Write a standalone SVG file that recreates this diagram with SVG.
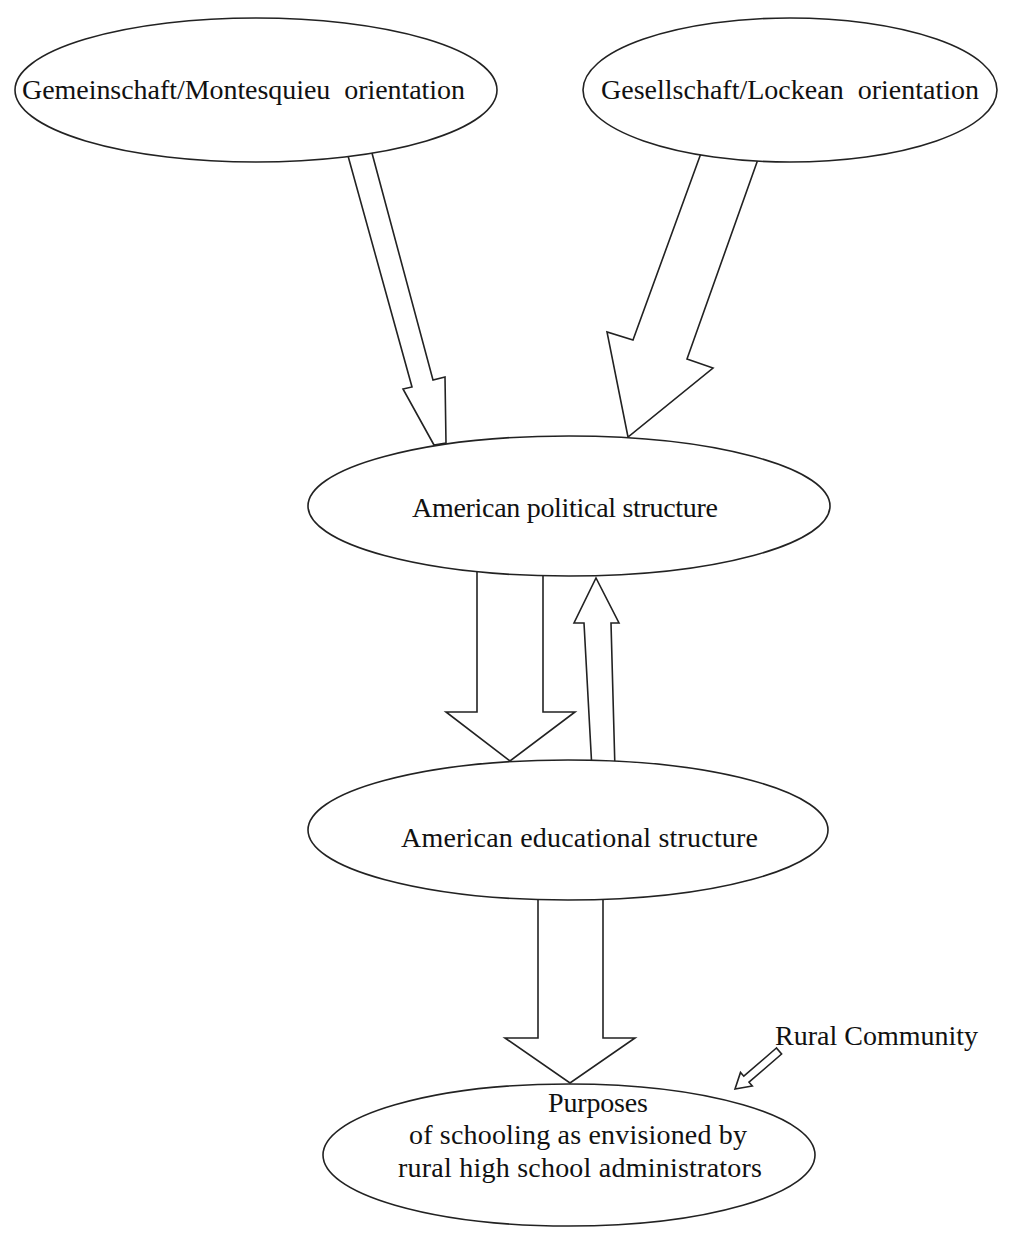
<svg xmlns="http://www.w3.org/2000/svg" width="1013" height="1237" viewBox="0 0 1013 1237">
<style>
.node ellipse{fill:#fff;stroke:#222;stroke-width:1.6}
.arr polygon{fill:#fff;stroke:#222;stroke-width:1.6;stroke-linejoin:miter}
text{font-family:"Liberation Serif","Times New Roman",serif;font-size:28px;fill:#111}
</style>
<rect width="1013" height="1237" fill="#fff"/>
<g id="connectors" class="arr">
<polygon points="345,145 412,387 403,389 434,445 446,443 445,377 433,380 369,142"/>
<polygon points="704,145 633,340 607,332 628,437 713,368 687,359 762,148"/>
<polygon points="477,565 477,712 446,712 510,761 575,712 543,712 543,565"/>
<polygon points="592,770 584,623 574,623 596,578 619,623 611,623 615,770"/>
<polygon points="538,892 538,1038 505,1038 570,1083 635,1038 603,1038 603,892"/>
<polygon points="776.4,1048 743.8,1076.2 740.5,1072.4 735,1089 752.3,1086 749,1082.2 781.6,1054"/>
</g>
<g id="n1" class="node"><ellipse cx="256" cy="90" rx="241" ry="72"/><text x="22" y="99" textLength="443" lengthAdjust="spacing" xml:space="preserve">Gemeinschaft/Montesquieu  orientation</text></g>
<g id="n2" class="node"><ellipse cx="790" cy="90" rx="207" ry="72"/><text x="601" y="99" textLength="378" lengthAdjust="spacing" xml:space="preserve">Gesellschaft/Lockean  orientation</text></g>
<g id="n3" class="node"><ellipse cx="569" cy="506" rx="261" ry="70"/><text x="412" y="517" textLength="306" lengthAdjust="spacing">American political structure</text></g>
<g id="n4" class="node"><ellipse cx="568" cy="830" rx="260" ry="70"/><text x="401" y="847" textLength="357" lengthAdjust="spacing">American educational structure</text></g>
<g id="n5" class="node"><ellipse cx="569" cy="1155" rx="246" ry="71"/>
<text x="548" y="1112" textLength="100" lengthAdjust="spacing">Purposes</text>
<text x="409" y="1144" textLength="338" lengthAdjust="spacing">of schooling as envisioned by</text>
<text x="398" y="1177" textLength="364" lengthAdjust="spacing">rural high school administrators</text></g>
<g id="n6"><text x="775" y="1045" textLength="203" lengthAdjust="spacing">Rural Community</text></g>
</svg>
